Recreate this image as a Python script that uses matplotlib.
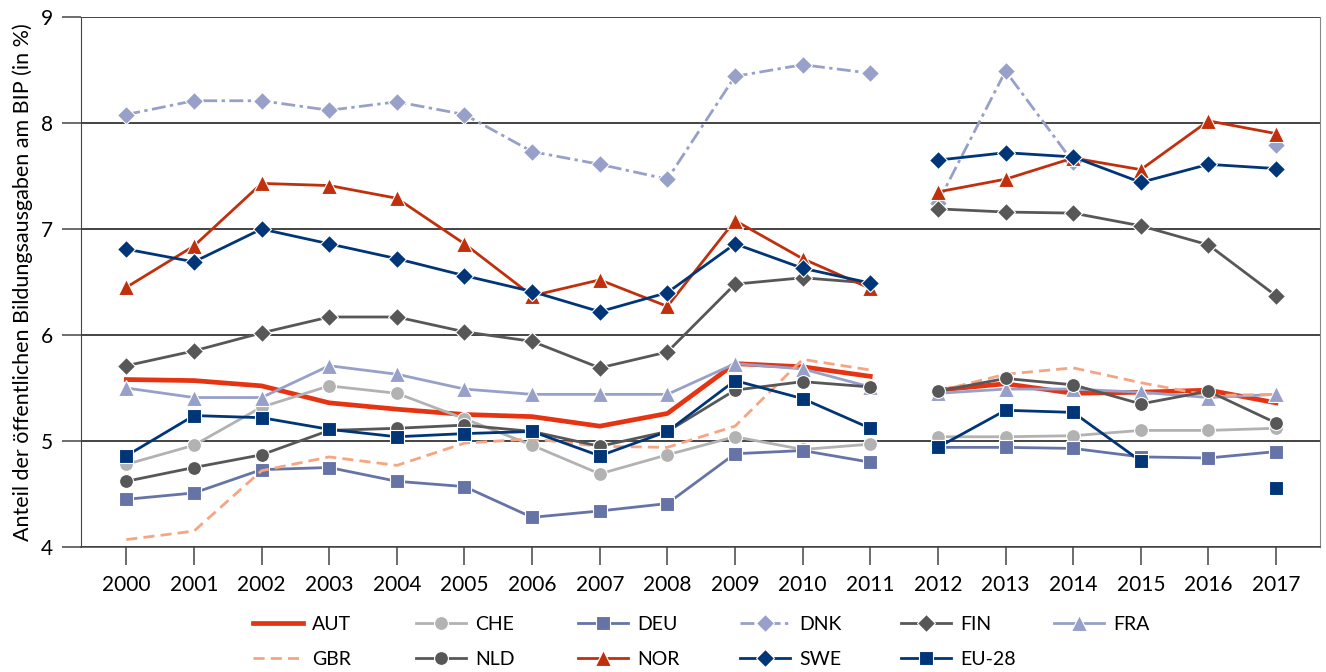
import numpy as np
import matplotlib.pyplot as plt

plt.rcParams['font.family'] = ['Lato', 'DejaVu Sans']

years = np.arange(2000, 2018)
nan = np.nan

aut = [5.58, 5.57, 5.52, 5.36, 5.30, 5.25, 5.23, 5.14, 5.26, 5.73, 5.70, 5.61,
       5.48, 5.54, 5.45, 5.46, 5.48, 5.36]
che = [4.78, 4.96, 5.32, 5.52, 5.45, 5.21, 4.96, 4.69, 4.87, 5.04, 4.92, 4.97,
       5.04, 5.04, 5.05, 5.10, 5.10, 5.12]
deu = [4.45, 4.51, 4.73, 4.75, 4.62, 4.57, 4.28, 4.34, 4.41, 4.88, 4.91, 4.80,
       4.94, 4.94, 4.93, 4.85, 4.84, 4.90]
dnk = [8.08, 8.21, 8.21, 8.12, 8.20, 8.08, 7.73, 7.61, 7.47, 8.44, 8.55, 8.47,
       7.25, 8.49, 7.63, nan, nan, 7.79]
fin = [5.71, 5.85, 6.02, 6.17, 6.17, 6.03, 5.94, 5.69, 5.84, 6.48, 6.54, 6.49,
       7.19, 7.16, 7.15, 7.03, 6.85, 6.37]
fra = [5.50, 5.41, 5.41, 5.71, 5.63, 5.49, 5.44, 5.44, 5.44, 5.73, 5.68, 5.51,
       5.45, 5.49, 5.49, 5.46, 5.41, 5.44]
gbr = [4.07, 4.15, 4.72, 4.85, 4.77, 4.98, 5.02, 4.95, 4.94, 5.14, 5.77, 5.67,
       5.47, 5.63, 5.69, 5.55, 5.43, 5.44]
nld = [4.62, 4.75, 4.87, 5.10, 5.12, 5.15, 5.09, 4.95, 5.09, 5.48, 5.56, 5.51,
       5.47, 5.59, 5.53, 5.35, 5.47, 5.17]
nor = [6.45, 6.84, 7.43, 7.41, 7.29, 6.86, 6.37, 6.52, 6.27, 7.08, 6.72, 6.44,
       7.35, 7.47, 7.67, 7.56, 8.02, 7.90]
swe = [6.81, 6.69, 7.00, 6.86, 6.72, 6.56, 6.41, 6.22, 6.40, 6.86, 6.63, 6.49,
       7.65, 7.72, 7.68, 7.44, 7.61, 7.57]
eu28 = [4.86, 5.24, 5.22, 5.11, 5.04, 5.07, 5.09, 4.86, 5.09, 5.57, 5.40, 5.12,
        4.94, 5.29, 5.27, 4.81, nan, 4.56]

series = [
    ('AUT', aut, '#e63312', '-', None, 3.4),
    ('CHE', che, '#b2b2b2', '-', 'o', 2.0),
    ('DEU', deu, '#6673a6', '-', 's', 2.0),
    ('DNK', dnk, '#97a0c9', (0, (5, 1.6, 1.2, 1.6)), 'D', 2.0),
    ('FIN', fin, '#575757', '-', 'D', 2.0),
    ('FRA', fra, '#97a0c9', '-', '^', 2.0),
    ('GBR', gbr, '#f5a582', (0, (4, 2.2)), None, 2.0),
    ('NLD', nld, '#575757', '-', 'o', 2.0),
    ('NOR', nor, '#c0300c', '-', '^', 2.0),
    ('SWE', swe, '#003577', '-', 'D', 2.0),
    ('EU-28', eu28, '#003577', '-', 's', 2.0),
]

# break between 2011 and 2012
x = np.insert(years.astype(float), 12, 2011.5)

fig = plt.figure(figsize=(13.26, 6.72), dpi=100)
ax = fig.add_axes([0.0611, 0.186, 0.9344, 0.7887])

handles = {}
for name, vals, col, ls, mk, lw in series:
    y = np.insert(np.array(vals, dtype=float), 12, nan)
    ms = {'^': 11, 'o': 10, 's': 9.5, 'D': 9}.get(mk, 0)
    ln, = ax.plot(x, y, color=col, linestyle=ls, linewidth=lw, marker=mk,
                  markersize=ms, markeredgecolor='white', markeredgewidth=0.8,
                  label=name)
    handles[name] = ln

ax.set_xlim(1999.33, 2017.65)
ax.set_ylim(4, 9)
ax.set_xticks(years)
ax.set_yticks([4, 5, 6, 7, 8, 9])
ax.grid(axis='y', color='#111111', linewidth=1.1)
ax.set_axisbelow(True)
ax.spines['top'].set_visible(False)
ax.spines['right'].set_color('#888888')
ax.spines['left'].set_color('#444444')
ax.spines['bottom'].set_color('#444444')
ax.spines['bottom'].set_linewidth(1.1)
ax.tick_params(axis='x', direction='out', length=13, width=1.1, color='#444444',
               labelsize=15, pad=7)
ax.tick_params(axis='y', direction='out', length=14, width=1.1, color='#444444',
               labelsize=15, pad=6)
ax.set_ylabel('Anteil der öffentlichen Bildungsausgaben am BIP (in %)',
              fontsize=15.5, labelpad=6)

# legend: six fixed-width columns, two rows
columns = [['AUT', 'GBR'], ['CHE', 'NLD'], ['DEU', 'NOR'], ['DNK', 'SWE'],
           ['FIN', 'EU-28'], ['FRA']]
col_x = [253, 416, 578, 740, 901, 1054]
for i, names in enumerate(columns):
    leg = fig.legend([handles[n] for n in names], names, loc='upper left',
                     bbox_to_anchor=(col_x[i] / 1326, 1 - 616 / 672),
                     frameon=False, fontsize=14, handlelength=2.55,
                     numpoints=1, handletextpad=0.5, labelspacing=0.92,
                     borderpad=0, borderaxespad=0)

fig.savefig('out.png', dpi=100)
